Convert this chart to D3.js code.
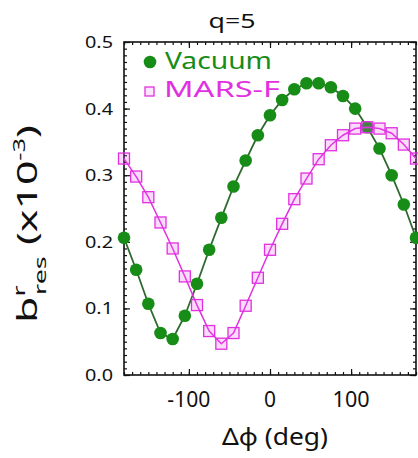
<!DOCTYPE html>
<html><head><meta charset="utf-8">
<script src="https://cdn.jsdelivr.net/npm/d3@7"></script>
<style>body{margin:0;background:#fff}svg{display:block}text{font-family:"Noto Sans","Open Sans",sans-serif}</style>
</head><body>
<script>
const phi = [-180,-165,-150,-135,-120,-105,-90,-75,-60,-45,-30,-15,0,15,30,45,60,75,90,105,120,135,150,165,180];
const vacuum = [0.206,0.158,0.107,0.063,0.054,0.089,0.137,0.188,0.236,0.283,0.322,0.36,0.39,0.413,0.429,0.438,0.438,0.432,0.419,0.4,0.372,0.34,0.3,0.256,0.206];
const marsf = [0.325,0.298,0.267,0.229,0.19,0.148,0.105,0.066,0.047,0.063,0.104,0.146,0.188,0.227,0.264,0.295,0.324,0.345,0.36,0.37,0.372,0.37,0.363,0.346,0.325];
const xTicks = [-100,0,100];
const yTicks = [0.0,0.1,0.2,0.3,0.4,0.5];
const seriesNames = ["Vacuum","MARS-F"];
const title = "q=5";

const W=418,H=458;
const L=124,R=416,T=42,B=375;
const svg=d3.select("body").append("svg").attr("width",W).attr("height",H);
const x=d3.scaleLinear().domain([-180,180]).range([L,R]);
const y=d3.scaleLinear().domain([0,0.5]).range([B,T]);

const green="#178c17", gline="#2e6a2e", mag="#e030e0";

function ftext(str, tx, ty, size, target, anchor, color){
  return svg.append("text").attr("x",tx).attr("y",ty).attr("text-anchor",anchor).attr("font-size",size)
    .attr("fill",color||"#111").attr("textLength",target).attr("lengthAdjust","spacingAndGlyphs").text(str);
}

const minorX=d3.range(-180,181,10);
const minorY=d3.range(0,0.5001,0.01);
const ax=svg.append("g");
function tickAxis(axisFn, scale, major, minor, transform){
  const g1=ax.append("g").attr("transform",transform)
    .call(axisFn(scale).tickValues(minor).tickSize(-3).tickFormat(""));
  const g2=ax.append("g").attr("transform",transform)
    .call(axisFn(scale).tickValues(major).tickSize(-6).tickFormat(""));
  [g1,g2].forEach(g=>{g.select(".domain").remove();g.selectAll("line").attr("stroke","#111").attr("stroke-width",1.2);});
}
tickAxis(d3.axisBottom,x,xTicks,minorX,`translate(0,${B})`);
tickAxis(d3.axisTop,x,xTicks,minorX,`translate(0,${T})`);
tickAxis(d3.axisLeft,y,yTicks,minorY,`translate(${L},0)`);
tickAxis(d3.axisRight,y,yTicks,minorY,`translate(${R},0)`);
svg.append("rect").attr("x",L).attr("y",T).attr("width",R-L).attr("height",B-T)
  .attr("fill","none").attr("stroke","#111").attr("stroke-width",1.6);

xTicks.forEach(v=>ftext(String(v),x(v),407,21,v<0?43:(v==0?12:37),"middle"));
yTicks.forEach(v=>ftext(v.toFixed(1),113,y(v)+6,17,28,"end"));

const line=d3.line().x((d,i)=>x(phi[i])).y(d=>y(d));
svg.append("path").datum(vacuum).attr("d",line).attr("fill","none").attr("stroke",gline).attr("stroke-width",1.8);
svg.selectAll("circle.v").data(vacuum).join("circle").attr("class","v")
  .attr("cx",(d,i)=>x(phi[i])).attr("cy",d=>y(d)).attr("r",6.3).attr("fill",green);
svg.append("path").datum(marsf).attr("d",line).attr("fill","none").attr("stroke",mag).attr("stroke-width",1.5);
const s=11;
svg.selectAll("rect.m").data(marsf).join("rect").attr("class","m")
  .attr("x",(d,i)=>x(phi[i])-s/2).attr("y",d=>y(d)-s/2).attr("width",s).attr("height",s)
  .attr("fill","rgba(235,90,235,0.22)").attr("stroke",mag).attr("stroke-width",1.3);

svg.append("circle").attr("cx",150).attr("cy",62).attr("r",6.3).attr("fill",green);
ftext(seriesNames[0],165,69,24,107,"start",green);
svg.append("rect").attr("x",145).attr("y",87).attr("width",9).attr("height",9)
  .attr("fill","#fbe6fb").attr("stroke",mag).attr("stroke-width",1.3);
ftext(seriesNames[1],164,97,22,116,"start",mag);

ftext(title,232,28,20,47,"middle");
ftext("Δϕ (deg)",275,445,24,106,"middle");

const yl=svg.append("text").attr("text-anchor","middle").attr("font-size",27).attr("fill","#111");
yl.append("tspan").text("b");
yl.append("tspan").attr("font-size",17).attr("dy",-12).text("r");
yl.append("tspan").attr("font-size",17).attr("dx",-6).attr("dy",21).text("res");
yl.append("tspan").attr("dy",-9).text(" (x10");
yl.append("tspan").attr("font-size",16).attr("dy",-12).text("-3");
yl.append("tspan").attr("dy",12).text(")");
const ylen=yl.node().getBBox().width;
yl.attr("transform",`translate(37,224) rotate(-90) scale(${198/ylen},1)`);
</script>
</body></html>
